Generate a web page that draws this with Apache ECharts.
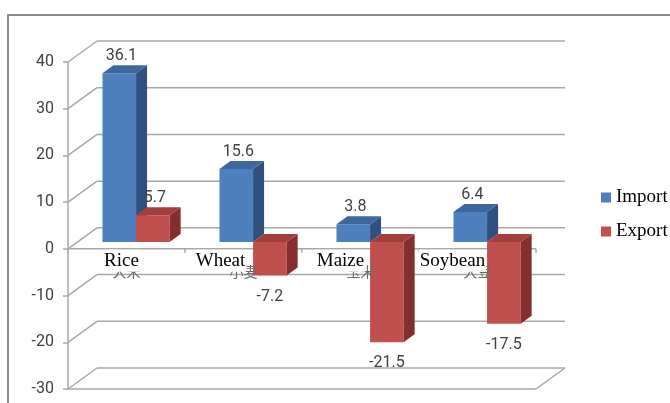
<!DOCTYPE html>
<html>
<head>
<meta charset="utf-8">
<script src="https://cdn.jsdelivr.net/npm/echarts@6/dist/echarts.min.js"></script>
<style>
  html, body { margin: 0; padding: 0; background: #fff; }
  #chart { width: 670px; height: 403px; }
</style>
</head>
<body>
<div id="chart"></div>
<script>
// ---- data ----
const CATEGORIES = ['Rice', 'Wheat', 'Maize', 'Soybean'];
const CATEGORIES_ZH = ['大米', '小麦', '玉米', '大豆'];
const SERIES_NAMES = ['Import', 'Export'];
const IMPORT = [36.1, 15.6, 3.8, 6.4];
const EXPORT = [5.7, -7.2, -21.5, -17.5];
const Y_TICKS = [-30, -20, -10, 0, 10, 20, 30, 40];

// ---- 3D box geometry (pixels) ----
const WALL_DX = 29, WALL_DY = -21;   // depth of the back wall behind the value axis
const BAR_DEPTH_AT = 0.33;           // how far into the box the bar fronts sit
const BAR_DX = 11, BAR_DY = -8;      // bar thickness along the depth direction
const BAR_WIDTH_RATIO = 0.287;       // one bar's width as a share of the category band
const LABEL_SHIFT = [-5, -23, -20, -25];
const GRID_COLOR = '#a8a8a8';
const FACES = {
  Import: { front: '#4d80bd', top: '#3e679d', side: '#30517f' },
  Export: { front: '#c0504d', top: '#a23f3c', side: '#842f2d' }
};

function line(x1, y1, x2, y2) {
  return {
    type: 'line',
    shape: { x1, y1, x2, y2 },
    style: { stroke: GRID_COLOR, lineWidth: 1.5 }
  };
}

// back wall, left wall gridlines and the two floors (at 0 and at the minimum)
function renderWall(params, api) {
  const cs = params.coordSys;
  const v = api.value(1);
  const y = api.coord([0, v])[1];
  const x0 = cs.x, x1 = cs.x + cs.width;
  const children = [
    line(x0 + WALL_DX, y + WALL_DY, x1 + WALL_DX, y + WALL_DY),
    line(x0, y, x0 + WALL_DX, y + WALL_DY)
  ];
  if (v === 0) {
    children.push(line(x0, y, x1, y));
  }
  if (v === Y_TICKS[0]) {
    children.push(line(x0, y, x1, y));
    children.push(line(x1, y, x1 + WALL_DX, y + WALL_DY));
  }
  return { type: 'group', children };
}

function makeBarRenderer(slot, faces) {
  return function (params, api) {
    const i = api.value(0);
    const v = api.value(1);
    const band = api.size([1, 0])[0];
    const base = api.coord([i, 0]);
    const tip = api.coord([i, v]);
    const ox = WALL_DX * BAR_DEPTH_AT, oy = WALL_DY * BAR_DEPTH_AT;
    const w = band * BAR_WIDTH_RATIO;
    const xL = base[0] + ox - w + slot * w;
    const xR = xL + w;
    const yA = base[1] + oy, yB = tip[1] + oy;
    const yTop = Math.min(yA, yB), yBot = Math.max(yA, yB);
    const labelX = (xL + xR) / 2 + (v >= 0 ? 2 : 0);
    const labelY = v >= 0 ? yTop - 17 : yBot + 21;
    return {
      type: 'group',
      children: [
        { type: 'rect', shape: { x: xL, y: yTop, width: w, height: yBot - yTop }, style: { fill: faces.front } },
        { type: 'polygon', shape: { points: [[xR, yTop], [xR + BAR_DX, yTop + BAR_DY], [xR + BAR_DX, yBot + BAR_DY], [xR, yBot]] }, style: { fill: faces.side } },
        { type: 'polygon', shape: { points: [[xL, yTop], [xL + BAR_DX, yTop + BAR_DY], [xR + BAR_DX, yTop + BAR_DY], [xR, yTop]] }, style: { fill: faces.top } },
        { type: 'text', x: labelX, y: labelY, style: { text: String(v), fill: '#404040', fontFamily: 'Roboto', fontSize: 16, align: 'center', verticalAlign: 'middle' } }
      ]
    };
  };
}

// category names: Chinese names at the band centre, English names in white boxes on top
function renderNames(params, api) {
  const i = api.value(0);
  const p = api.coord([i, 0]);
  return {
    type: 'group',
    children: [
      {
        type: 'text', x: p[0], y: p[1] + 23,
        style: {
          text: CATEGORIES_ZH[i], fill: '#6a6a6a', fontFamily: 'Noto Sans CJK SC', fontSize: 14,
          align: 'center', verticalAlign: 'middle'
        }
      },
      {
        type: 'text', x: p[0] + LABEL_SHIFT[i], y: p[1] + 12,
        style: {
          text: CATEGORIES[i], fill: '#000', fontFamily: 'Liberation Serif', fontSize: 19,
          align: 'center', verticalAlign: 'middle', backgroundColor: '#fff', padding: [0, 1, 3, 1]
        }
      }
    ]
  };
}

const chart = echarts.init(document.getElementById('chart'), null, { renderer: 'canvas' });
chart.setOption({
  animation: false,
  backgroundColor: '#fff',
  grid: { left: 68, top: 62, width: 468, height: 327, outerBoundsMode: 'none', containLabel: false },
  legend: {
    data: SERIES_NAMES, orient: 'vertical', left: 601, top: 188, padding: 0,
    itemWidth: 10, itemHeight: 10, itemGap: 15, icon: 'rect', selectedMode: false,
    textStyle: { fontFamily: 'Liberation Serif', fontSize: 19, color: '#000' }
  },
  xAxis: {
    type: 'category', data: CATEGORIES, z: 10,
    axisLine: { show: true, onZero: true, lineStyle: { color: 'rgba(0,0,0,0)' } },
    axisTick: { show: true, length: 4, lineStyle: { color: GRID_COLOR, width: 1.5 } },
    axisLabel: { show: false },
    splitLine: { show: false }
  },
  yAxis: {
    type: 'value', min: Y_TICKS[0], max: Y_TICKS[Y_TICKS.length - 1], interval: 10,
    axisLine: { show: true, lineStyle: { color: GRID_COLOR, width: 1.5 } },
    axisTick: { show: true, length: 5, lineStyle: { color: GRID_COLOR, width: 1.5 } },
    axisLabel: { color: '#404040', fontFamily: 'Roboto', fontSize: 16, margin: 14 },
    splitLine: { show: false }
  },
  graphic: [{
    type: 'rect', silent: true, z: -10,
    shape: { x: 8, y: 15, width: 700, height: 420 },
    style: { fill: 'none', stroke: '#8c8c8c', lineWidth: 2 }
  }],
  series: [
    {
      type: 'custom', name: 'wall', silent: true, z: 1,
      data: Y_TICKS.map(v => [0, v]), encode: { x: 0, y: 1 },
      renderItem: renderWall
    },
    {
      type: 'custom', name: SERIES_NAMES[0], silent: true, z: 3,
      itemStyle: { color: FACES.Import.front },
      data: IMPORT.map((v, i) => [i, v]), encode: { x: 0, y: 1 },
      renderItem: makeBarRenderer(0, FACES.Import)
    },
    {
      type: 'custom', name: SERIES_NAMES[1], silent: true, z: 4,
      itemStyle: { color: FACES.Export.front },
      data: EXPORT.map((v, i) => [i, v]), encode: { x: 0, y: 1 },
      renderItem: makeBarRenderer(1, FACES.Export)
    },
    {
      type: 'custom', name: 'names', silent: true, z: 12,
      data: CATEGORIES.map((c, i) => [i, 0]), encode: { x: 0, y: 1 },
      renderItem: renderNames
    }
  ]
});
</script>
</body>
</html>
